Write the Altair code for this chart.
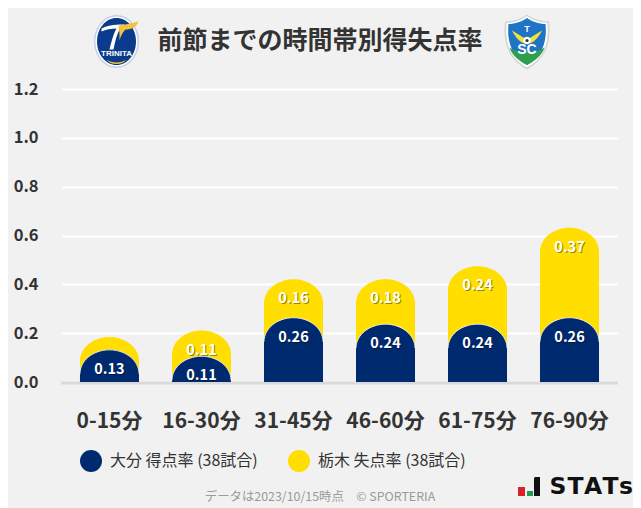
import altair as alt
import pandas as pd

FONT = "Noto Sans CJK JP"
periods = ["0-15分", "16-30分", "31-45分", "46-60分", "61-75分", "76-90分"]
oita_for = [0.1316, 0.1053, 0.2632, 0.2368, 0.2368, 0.2632]
tochigi_against = [0.0526, 0.1053, 0.1579, 0.1842, 0.2368, 0.3684]
tochigi_labels = ["", "0.11", "0.16", "0.18", "0.24", "0.37"]
oita_labels = ["0.13", "0.11", "0.26", "0.24", "0.24", "0.26"]
series_names = ["大分 得点率 (38試合)", "栃木 失点率 (38試合)"]
series_colors = ["#002a70", "#ffde00"]
y_ticks = [0.0, 0.2, 0.4, 0.6, 0.8, 1.0, 1.2]
title_text = "前節までの時間帯別得失点率"
footer_text = "データは2023/10/15時点　© SPORTERIA"

PAD_L, PAD_T = 53, 81
PLOT_W, PLOT_H = 557, 293
DOME_PX = 24
DOME_DATA = DOME_PX * 1.2 / PLOT_H
OVERLAP = 1 * 1.2 / PLOT_H
BAR_W = 59
ry = DOME_PX / (BAR_W / 2)
k = 0.5523
DOME = f"M-1,{ry} C-1,{ry*(1-k)} {-k},0 0,0 C{k},0 1,{ry*(1-k)} 1,{ry}"

base_df = pd.DataFrame({"period": periods, "navy": oita_for, "yellow": tochigi_against,
                        "lab_y": tochigi_labels, "lab_n": oita_labels})
base_df["top_yellow"] = base_df["navy"] + base_df["yellow"]
base_df["body_yellow"] = base_df["top_yellow"] - DOME_DATA + OVERLAP
base_df["body_navy"] = base_df["navy"] - DOME_DATA + OVERLAP
base_df["name_n"] = series_names[0]
base_df["name_y"] = series_names[1]

x = alt.X("period:N", sort=periods, title=None,
          scale=alt.Scale(paddingInner=0.36, paddingOuter=0.207),
          axis=alt.Axis(labelAngle=0, labelFont=FONT, labelFontSize=21, labelFontWeight="bold",
                        labelColor="#333333", ticks=False, domain=False, labelPadding=28, grid=False))
yscale = alt.Scale(domain=[0, 1.2], nice=False)
y_axis = alt.Axis(values=y_ticks, format=".1f", labelFont=FONT, labelFontSize=16.5, labelFontWeight="bold",
                  labelColor="#333333", ticks=False, domain=False, labelPadding=23,
                  gridColor="#ffffff", gridWidth=2, gridOpacity=1)
color = alt.Color("name:N", scale=alt.Scale(domain=series_names, range=series_colors),
                  legend=alt.Legend(title=None, orient="none", legendX=19, legendY=361, direction="horizontal",
                                    symbolType="circle", symbolSize=484, symbolStrokeWidth=0,
                                    labelFont=FONT, labelFontSize=16, labelColor="#333333",
                                    labelOffset=8, columnPadding=30, labelLimit=300, symbolOpacity=1))

base = alt.Chart(base_df)

def series(top, body, name_field):
    bar = base.transform_calculate(name=f"datum.{name_field}").mark_bar(width=BAR_W).encode(
        x=x,
        y=alt.Y(f"{body}:Q", scale=yscale, axis=y_axis, title=None),
        y2=alt.datum(0),
        color=color,
    )
    dome = base.transform_calculate(name=f"datum.{name_field}").mark_point(
        shape=DOME, size=BAR_W ** 2, filled=True, opacity=1).encode(
        x=x,
        y=alt.Y(f"{top}:Q", scale=yscale, title=None, axis=y_axis),
        color=color,
    )
    return bar, dome

def labels(top, field):
    shadow = base.mark_text(font=FONT, fontSize=14.5, fontWeight="bold", color="#000000", opacity=0.4,
                            dy=21, dx=1).encode(
        x=x, y=alt.Y(f"{top}:Q", scale=yscale, title=None, axis=y_axis), text=f"{field}:N")
    front = base.mark_text(font=FONT, fontSize=14.5, fontWeight="bold", color="#ffffff", dy=20).encode(
        x=x, y=alt.Y(f"{top}:Q", scale=yscale, title=None, axis=y_axis), text=f"{field}:N")
    return shadow, front

y_bar, y_dome = series("top_yellow", "body_yellow", "name_y")
n_bar, n_dome = series("navy", "body_navy", "name_n")
n_edge = base.mark_point(shape=DOME, size=BAR_W ** 2, filled=False, stroke="#ffffff", strokeWidth=1,
                         opacity=0.8).encode(
    x=x, y=alt.Y("navy:Q", scale=yscale, title=None, axis=y_axis))
baseline = alt.Chart(pd.DataFrame({"v": [0]})).mark_rule(color="#d9d9d9", strokeWidth=3).encode(
    y=alt.Y("v:Q", scale=yscale, title=None, axis=y_axis), yOffset=alt.value(1))

layers = [baseline, y_bar, y_dome, *labels("top_yellow", "lab_y"), n_bar, n_dome, n_edge, *labels("navy", "lab_n")]

def ox(v): return v - 8 - PAD_L
def oy(v): return v - 8 - PAD_T

def px_text(s, px, py, **kw):
    return alt.Chart(pd.DataFrame({"t": [s]})).mark_text(**kw).encode(
        x=alt.value(ox(px)), y=alt.value(oy(py)), text="t:N")

def px_sym(path, px, py, fill):
    # size 4 makes one path unit equal to one pixel
    return alt.Chart(pd.DataFrame({"t": [0]})).mark_point(
        shape=path, size=4, filled=True, opacity=1, color=fill).encode(
        x=alt.value(ox(px)), y=alt.value(oy(py)))

def ell(rx, ryy, cx=0, cy=0):
    a, b = rx * k, ryy * k
    return (f"M{cx-rx},{cy} C{cx-rx},{cy-b} {cx-a},{cy-ryy} {cx},{cy-ryy} "
            f"C{cx+a},{cy-ryy} {cx+rx},{cy-b} {cx+rx},{cy} "
            f"C{cx+rx},{cy+b} {cx+a},{cy+ryy} {cx},{cy+ryy} "
            f"C{cx-a},{cy+ryy} {cx-rx},{cy+b} {cx-rx},{cy} Z")

OX, OY = 116.5, 41.5
oita_logo = [
    px_sym(ell(22.5, 26.5), OX, OY, "#c3d0e8"),
    px_sym(ell(21, 25), OX, OY, "#ffffff"),
    px_sym(ell(19.5, 23.5), OX, OY, "#0b3b8c"),
    px_sym("M-10,18 C-5,22 5,22 10,18 C6,24 -6,24 -10,18 Z", OX, OY, "#f4c430"),
    px_sym("M-15,-13 C-8,-17 2,-17 8,-17 C2,-13 0,-6 -3,8 L-7,8 C-5,0 -3,-8 0,-13 C-5,-13 -11,-12 -15,-10 Z", OX, OY, "#ffffff"),
    px_sym("M2,-16 C8,-17 15,-18 22,-20 C20,-14 15,-12 9,-12 C5,-8 4,-4 3,-1 C3,-7 3,-12 2,-16 Z", OX, OY, "#f5c33b"),
    px_text("TRINITA", OX, OY + 12, font="Liberation Sans", fontSize=8, fontWeight="bold", color="#ffffff", align="center", baseline="middle"),
]

TX, TY = 527, 41.5
SHIELD = "M0,-27 C5,-23 14,-20 22,-20 C24,0 20,17 0,28 C-20,17 -24,0 -22,-20 C-14,-20 -5,-23 0,-27 Z"
SHIELD2 = "M0,-25.5 C5,-21.5 13,-18.8 20.5,-18.8 C22,0 18.5,16 0,26 C-18.5,16 -22,0 -20.5,-18.8 C-13,-18.8 -5,-21.5 0,-25.5 Z"
SHIELD3 = "M0,-23.5 C5,-20 12,-17.5 18.5,-17.5 C20,-2 17,13 0,23.5 C-17,13 -20,-2 -18.5,-17.5 C-12,-17.5 -5,-20 0,-23.5 Z"
tochigi_logo = [
    px_sym(SHIELD, TX, TY, "#cfd6d4"),
    px_sym(SHIELD2, TX, TY, "#ffffff"),
    px_sym(SHIELD3, TX, TY, "#1f74c6"),
    px_sym("M-17.5,6 C-10,12 10,12 17.5,6 C15,14 8,19.5 0,23.5 C-8,19.5 -15,14 -17.5,6 Z", TX, TY, "#2f9e4f"),
    px_sym("M-15,-11 L-2,-3 L-3,2 C-8,0 -12,-5 -15,-11 Z", TX, TY, "#f2e23a"),
    px_sym("M15,-11 L2,-3 L3,2 C8,0 12,-5 15,-11 Z", TX, TY, "#f2e23a"),
    px_sym(ell(3.8, 3.8, 0, -1), TX, TY, "#ffffff"),
    px_sym(ell(1.6, 1.6, 0, -1), TX, TY, "#333333"),
    px_text("T", TX, TY - 13, font="Liberation Sans", fontSize=9, fontWeight="bold", color="#ffffff", align="center", baseline="middle"),
    px_text("SC", TX, TY + 8, font="Liberation Sans", fontSize=14, fontWeight="bold", color="#ffffff", align="center", baseline="middle"),
]

stats_letters = [("S", 558), ("T", 575.5), ("A", 593), ("T", 610.5), ("s", 626)]
stats_logo = [
    px_sym("M0,0 H7 V9 H0 Z", 518, 487, "#d9212b"),
    px_sym("M0,0 H6 V5 H0 Z", 527, 491, "#1f9e50"),
    px_sym("M1,0 H6 V19 H0 V1 Z", 534, 477, "#111111"),
    *[px_text(ch, cx, 487, font="DejaVu Sans", fontSize=23.5, fontWeight="bold", color="#111111",
              align="center", baseline="middle") for ch, cx in stats_letters],
]

layers += [
    px_text(title_text, 320, 41, font=FONT, fontSize=25, fontWeight="bold", color="#333333", align="center", baseline="middle"),
    px_text(footer_text, 320, 497, font=FONT, fontSize=12.4, color="#9a9a9a", align="center", baseline="middle"),
    *oita_logo, *tochigi_logo, *stats_logo,
]

chart = alt.layer(*layers).properties(
    width=PLOT_W, height=PLOT_H, background="#f1f1f1",
    padding={"left": PAD_L, "top": PAD_T, "right": 15, "bottom": 126},
    autosize=alt.AutoSizeParams(type="none"),
).configure_view(stroke=None).configure_axisY(grid=True)

chart.save("out.html", embed_options={"renderer": "svg", "actions": False})
